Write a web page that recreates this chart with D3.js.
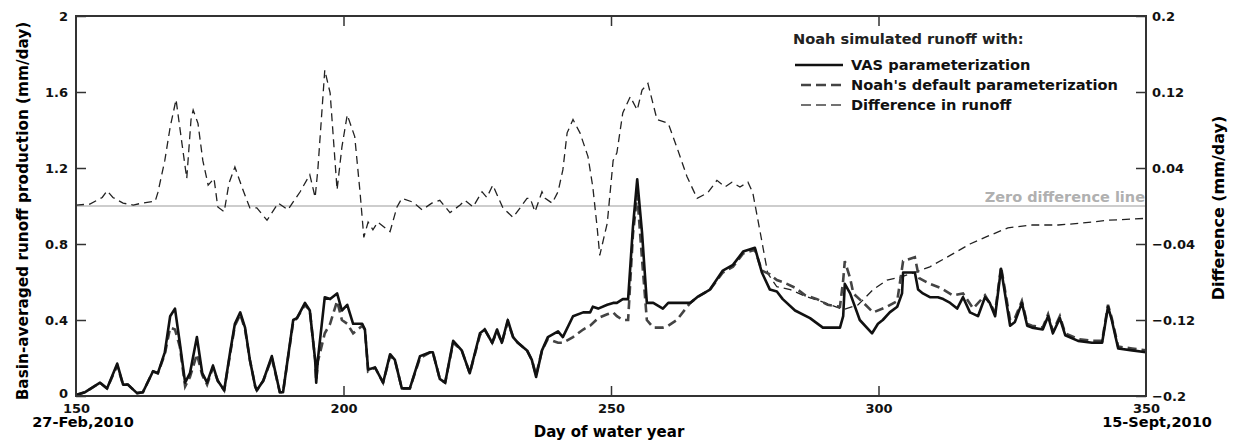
<!DOCTYPE html>
<html>
<head>
<meta charset="utf-8">
<script src="https://cdn.jsdelivr.net/npm/d3@7"></script>
<style>
  body { margin: 0; background: #fff; }
  svg text { font-family: "DejaVu Sans", Verdana, sans-serif; }
</style>
</head>
<body>
<div class="drawingArea"></div>
<script>
// Day of water year / runoff (mm/day), VAS parameterization
var vasDays = [150, 151.7, 154.5, 155.8, 157.7, 158.8, 159.7, 161.4, 162.5, 164.4, 165.3, 166.6, 167.6, 168.5, 169.4, 170.4, 171.3, 172.6, 173.6, 174.5, 175.6, 176.5, 177.7, 178.8, 179.7, 180.7, 181.6, 182.5, 183.5, 183.8, 185, 186.6, 188.1, 188.7, 190.6, 191.3, 192.8, 193.7, 194.7, 194.9, 195.2, 196.5, 197.5, 198.8, 199.7, 200.7, 201.8, 203.5, 204, 204.6, 205.9, 207.4, 208.7, 209.6, 210.9, 212.4, 214.3, 216.2, 216.7, 218, 219, 220.5, 222.1, 223.6, 225.5, 226.4, 227.8, 228.7, 229.6, 230.7, 231.7, 232.6, 234.3, 235.2, 236, 237.1, 238.2, 240.1, 241, 242.9, 244.8, 246.1, 246.6, 247.6, 249.3, 250.4, 251.1, 252.2, 253.2, 254.1, 254.9, 255.8, 256.7, 257.9, 259.7, 260.7, 264.8, 266.1, 268.5, 270.9, 272.8, 274.7, 276.9, 278.2, 279.7, 281, 282.1, 284.4, 287.2, 289.6, 292.8, 293.4, 293.7, 294.7, 296.5, 298.8, 299.9, 300.8, 302.1, 303.5, 304.4, 304.6, 306.8, 307.4, 308.3, 309.6, 311.1, 312.1, 313.4, 314.7, 315.8, 317.1, 318.6, 319.9, 320.8, 321.8, 322.9, 324.6, 325.5, 326.8, 327.8, 328.7, 330.7, 331.7, 332.6, 333.9, 334.9, 337.3, 339.9, 341.8, 342.9, 343.6, 344.8, 347.4, 350];
var vasRunoff = [0.005, 0.02, 0.07, 0.04, 0.17, 0.06, 0.06, 0.015, 0.02, 0.13, 0.12, 0.23, 0.42, 0.46, 0.28, 0.07, 0.12, 0.31, 0.12, 0.07, 0.16, 0.08, 0.03, 0.23, 0.38, 0.44, 0.36, 0.19, 0.05, 0.03, 0.08, 0.21, 0.02, 0.02, 0.40, 0.41, 0.49, 0.45, 0.19, 0.07, 0.19, 0.52, 0.51, 0.54, 0.45, 0.48, 0.38, 0.38, 0.35, 0.14, 0.15, 0.07, 0.22, 0.19, 0.04, 0.04, 0.21, 0.23, 0.23, 0.09, 0.07, 0.29, 0.24, 0.12, 0.33, 0.35, 0.28, 0.35, 0.28, 0.40, 0.31, 0.28, 0.24, 0.19, 0.10, 0.24, 0.31, 0.34, 0.31, 0.42, 0.44, 0.44, 0.47, 0.46, 0.48, 0.49, 0.49, 0.51, 0.51, 0.89, 1.14, 0.86, 0.49, 0.49, 0.46, 0.49, 0.49, 0.52, 0.56, 0.66, 0.69, 0.76, 0.78, 0.65, 0.56, 0.55, 0.51, 0.45, 0.41, 0.36, 0.36, 0.42, 0.59, 0.54, 0.40, 0.33, 0.38, 0.40, 0.44, 0.47, 0.54, 0.65, 0.65, 0.56, 0.54, 0.52, 0.52, 0.51, 0.49, 0.46, 0.52, 0.44, 0.42, 0.52, 0.49, 0.42, 0.67, 0.37, 0.39, 0.49, 0.37, 0.36, 0.35, 0.42, 0.33, 0.41, 0.32, 0.29, 0.28, 0.28, 0.47, 0.40, 0.25, 0.24, 0.23];

// Noah's default parameterization
var noahDays = [150, 151.7, 154.5, 155.8, 157.7, 158.8, 159.7, 161.4, 162.5, 164.4, 165.3, 166.6, 167.6, 168.5, 169.4, 170.4, 171.3, 172.6, 173.6, 174.5, 175.6, 176.5, 177.7, 178.8, 179.7, 180.7, 181.6, 182.5, 183.5, 183.8, 185, 186.6, 188.1, 188.7, 190.6, 191.3, 192.8, 193.7, 194.7, 194.9, 195.2, 196.5, 197.5, 198.8, 199.7, 200.7, 201.8, 203.5, 204, 204.6, 205.9, 207.4, 208.7, 209.6, 210.9, 212.4, 214.3, 216.2, 216.7, 218, 219, 220.5, 222.1, 223.6, 225.5, 226.4, 227.8, 228.7, 229.6, 230.7, 231.7, 232.6, 234.3, 235.2, 236, 237.1, 238.2, 240.1, 241, 242.9, 244.8, 246.1, 247.6, 249.3, 250.4, 251.1, 252.2, 253.2, 254.1, 254.9, 255.8, 256.7, 257.9, 259.7, 260.7, 262.3, 264.8, 266.1, 268.5, 270.9, 272.8, 274.7, 276.9, 278.2, 279.7, 281, 282.1, 284.4, 286.3, 288.5, 290.5, 292.8, 293.4, 293.7, 294.7, 295.3, 297.2, 299, 301.6, 303.5, 304.6, 306.8, 307.6, 309.6, 311.5, 313.9, 315.8, 317.7, 319.9, 321.8, 322.9, 324.6, 325.5, 326.8, 327.8, 328.7, 330.7, 331.7, 332.6, 333.9, 334.9, 337.3, 339.9, 341.8, 342.9, 343.6, 344.8, 347.4, 350];
var noahRunoff = [0.005, 0.02, 0.07, 0.04, 0.16, 0.06, 0.06, 0.015, 0.02, 0.13, 0.12, 0.22, 0.36, 0.35, 0.26, 0.05, 0.10, 0.22, 0.11, 0.06, 0.15, 0.08, 0.03, 0.22, 0.37, 0.43, 0.35, 0.19, 0.05, 0.03, 0.08, 0.20, 0.02, 0.02, 0.39, 0.41, 0.48, 0.45, 0.19, 0.08, 0.18, 0.33, 0.38, 0.50, 0.40, 0.38, 0.33, 0.37, 0.35, 0.13, 0.15, 0.07, 0.21, 0.19, 0.04, 0.04, 0.20, 0.23, 0.23, 0.09, 0.07, 0.28, 0.24, 0.12, 0.32, 0.35, 0.28, 0.34, 0.28, 0.39, 0.31, 0.28, 0.24, 0.19, 0.11, 0.24, 0.30, 0.28, 0.28, 0.31, 0.35, 0.37, 0.41, 0.43, 0.44, 0.42, 0.40, 0.40, 0.85, 1.06, 0.72, 0.40, 0.36, 0.36, 0.37, 0.40, 0.49, 0.52, 0.56, 0.65, 0.68, 0.75, 0.77, 0.66, 0.64, 0.61, 0.60, 0.57, 0.53, 0.51, 0.48, 0.47, 0.61, 0.71, 0.62, 0.54, 0.49, 0.44, 0.47, 0.50, 0.71, 0.73, 0.62, 0.59, 0.57, 0.53, 0.54, 0.46, 0.53, 0.44, 0.68, 0.40, 0.41, 0.50, 0.38, 0.37, 0.36, 0.43, 0.34, 0.42, 0.33, 0.30, 0.29, 0.29, 0.48, 0.41, 0.26, 0.25, 0.24];

// Difference in runoff (right axis)
var diffDays = [150, 152.6, 154.9, 155.8, 156.9, 158.8, 160.7, 162.3, 164.8, 165.3, 166.6, 167.6, 168.7, 169.8, 170.7, 171.5, 171.9, 172.8, 173.7, 174.7, 175.8, 176.5, 177.7, 178.6, 179.7, 181.2, 182.5, 183.8, 185.7, 187.8, 189.6, 191.9, 193.7, 194.7, 195.2, 196.5, 197.5, 198.8, 199.7, 200.7, 202.1, 203.1, 203.8, 204.6, 205.5, 206.4, 208.7, 210, 210.9, 213, 214.7, 216.5, 218, 219.9, 221.8, 222.7, 224.2, 225.9, 226.8, 227.9, 229.8, 231.7, 234.3, 234.9, 235.8, 237.1, 237.7, 239, 240.1, 241, 241.8, 242.9, 244.2, 245.7, 246.6, 247.4, 247.9, 249.3, 250.4, 251.1, 252.2, 253.6, 254.9, 255.8, 256.9, 258.6, 260.7, 262.3, 264.2, 266.1, 268.1, 269.8, 271.3, 272.6, 274.1, 275.6, 276.5, 277.9, 279.3, 281, 283.5, 286.3, 289.1, 293.4, 296.2, 299, 301.6, 304, 307.2, 309.6, 313.4, 317.1, 319.9, 324.2, 328.7, 333.6, 338, 342.9, 350];
var diffRunoff = [0.001, 0.002, 0.009, 0.016, 0.009, 0.003, 0.001, 0.003, 0.005, 0.014, 0.048, 0.083, 0.112, 0.066, 0.029, 0.091, 0.101, 0.087, 0.048, 0.022, 0.029, -0.001, -0.006, 0.024, 0.041, 0.017, -0.002, -0.002, -0.015, 0.003, -0.004, 0.015, 0.033, 0.009, 0.038, 0.143, 0.119, 0.017, 0.062, 0.096, 0.073, 0.014, -0.033, -0.017, -0.025, -0.017, -0.027, -0.001, 0.008, 0.004, -0.004, 0.003, 0.006, -0.007, 0.001, 0.006, -0.001, 0.015, 0.009, 0.022, -0.002, -0.012, 0.008, 0.008, -0.006, 0.015, 0.008, 0.003, 0.015, 0.038, 0.077, 0.091, 0.077, 0.052, 0.020, -0.022, -0.052, -0.018, 0.048, 0.056, 0.098, 0.115, 0.101, 0.122, 0.129, 0.091, 0.087, 0.062, 0.031, 0.008, 0.014, 0.027, 0.020, 0.025, 0.020, 0.025, 0.014, -0.028, -0.071, -0.085, -0.088, -0.095, -0.100, -0.109, -0.104, -0.088, -0.078, -0.075, -0.069, -0.064, -0.052, -0.040, -0.033, -0.023, -0.020, -0.020, -0.018, -0.015, -0.013];

var xTicks = [150, 200, 250, 300, 350];
var leftTicks = [0, 0.4, 0.8, 1.2, 1.6, 2];
var rightTicks = [-0.2, -0.12, -0.04, 0.04, 0.12, 0.2];
var legendLabels = ["VAS parameterization", "Noah's default parameterization", "Difference in runoff"];

var width = 1233, height = 441;
var plotLeft = 76, plotRight = 1146, plotTop = 16, plotBottom = 396;

var svg = d3.select(".drawingArea").append("svg")
    .attr("width", width).attr("height", height);

var x = d3.scaleLinear().domain([150, 350]).range([plotLeft, plotRight]);
var yL = d3.scaleLinear().domain([0, 2]).range([plotBottom, plotTop]);
var yR = d3.scaleLinear().domain([-0.2, 0.2]).range([plotBottom, plotTop]);

// zero difference line
svg.append("line")
    .attr("x1", plotLeft).attr("x2", plotRight)
    .attr("y1", yR(0)).attr("y2", yR(0))
    .attr("stroke", "#bdbdbd").attr("stroke-width", 1.5);
svg.append("text")
    .attr("x", plotRight - 1).attr("y", yR(0) - 4)
    .attr("text-anchor", "end")
    .attr("font-size", 14.5).attr("font-weight", "bold")
    .attr("fill", "#b0b0b0")
    .text("Zero difference line");

function makeLine(yScale) {
    return d3.line()
        .x(function (d) { return x(d[0]); })
        .y(function (d) { return yScale(d[1]); });
}

var plot = svg.append("g");

// Difference
plot.append("path")
    .datum(d3.zip(diffDays, diffRunoff))
    .attr("d", makeLine(yR))
    .attr("fill", "none").attr("stroke", "#222")
    .attr("stroke-width", 1.3).attr("stroke-dasharray", "8,5");

// Noah's default
plot.append("path")
    .datum(d3.zip(noahDays, noahRunoff))
    .attr("d", makeLine(yL))
    .attr("fill", "none").attr("stroke", "#444")
    .attr("stroke-width", 2.6).attr("stroke-dasharray", "9,5");

// VAS
plot.append("path")
    .datum(d3.zip(vasDays, vasRunoff))
    .attr("d", makeLine(yL))
    .attr("fill", "none").attr("stroke", "#111")
    .attr("stroke-width", 2.6).attr("stroke-linejoin", "round");

// frame
svg.append("rect")
    .attr("x", plotLeft).attr("y", plotTop)
    .attr("width", plotRight - plotLeft).attr("height", plotBottom - plotTop)
    .attr("fill", "none").attr("stroke", "#333").attr("stroke-width", 2);

// axes with inward ticks
var tickFont = function (g) {
    g.selectAll("text").attr("font-size", 13).attr("font-weight", "bold")
        .attr("fill", "#111").attr("font-family", "DejaVu Sans, Verdana, sans-serif");
    g.selectAll("line").attr("stroke", "#333").attr("stroke-width", 1.5);
    g.select(".domain").remove();
};

svg.append("g")
    .attr("transform", "translate(0," + plotBottom + ")")
    .call(d3.axisBottom(x).tickValues(xTicks).tickSize(-10).tickPadding(8).tickFormat(d3.format("d")))
    .call(tickFont)
    .call(function (g) {
        g.selectAll(".tick line").filter(function (d) { return d === 150 || d === 350; }).remove();
    });

svg.append("g")
    .attr("transform", "translate(0," + plotTop + ")")
    .call(d3.axisTop(x).tickValues([200, 250, 300]).tickSize(-10).tickFormat(""))
    .call(tickFont);

svg.append("g")
    .attr("transform", "translate(" + plotLeft + ",0)")
    .call(d3.axisLeft(yL).tickValues(leftTicks).tickSize(-10).tickPadding(8)
        .tickFormat(function (d) { return d === 0 || d === 2 ? d3.format("d")(d) : d3.format(".1f")(d); }))
    .call(tickFont)
    .call(function (g) {
        g.selectAll(".tick text").filter(function (d) { return d === 0; }).attr("dy", "0.1em");
    });

svg.append("g")
    .attr("transform", "translate(" + plotRight + ",0)")
    .call(d3.axisRight(yR).tickValues(rightTicks).tickSize(-10).tickPadding(6)
        .tickFormat(function (d) { return d3.format("")(+d.toFixed(2)); }))
    .call(tickFont);

// date labels under ends
svg.append("text").attr("x", 83).attr("y", 427)
    .attr("text-anchor", "middle").attr("font-size", 14.5).attr("font-weight", "bold")
    .text("27-Feb,2010");
svg.append("text").attr("x", 1157).attr("y", 427)
    .attr("text-anchor", "middle").attr("font-size", 14.5).attr("font-weight", "bold")
    .text("15-Sept,2010");

// axis titles
svg.append("text").attr("x", 609).attr("y", 437)
    .attr("text-anchor", "middle").attr("font-size", 15).attr("font-weight", "bold")
    .text("Day of water year");
svg.append("text")
    .attr("transform", "translate(28,211) rotate(-90)")
    .attr("text-anchor", "middle").attr("font-size", 15.3).attr("font-weight", "bold")
    .text("Basin-averaged runoff production (mm/day)");
svg.append("text")
    .attr("transform", "translate(1224,208) rotate(-90)")
    .attr("text-anchor", "middle").attr("font-size", 16).attr("font-weight", "bold")
    .text("Difference (mm/day)");

// legend
var legend = svg.append("g");
legend.append("text").attr("x", 793).attr("y", 44)
    .attr("font-size", 14.6).attr("font-weight", "bold").attr("fill", "#222")
    .text("Noah simulated runoff with:");
var legendStyles = [
    { x1: 795, w: 2.6, dash: null, color: "#111" },
    { x1: 801, w: 2.6, dash: "10,5", color: "#444" },
    { x1: 801, w: 1.6, dash: "10,5", color: "#444" }
];
legend.selectAll(".item")
    .data(legendLabels)
    .enter().append("g")
    .attr("class", "item")
    .attr("transform", function (d, i) { return "translate(0," + (65 + i * 20) + ")"; })
    .each(function (d, i) {
        var g = d3.select(this), s = legendStyles[i];
        g.append("line").attr("x1", s.x1).attr("x2", 843).attr("y1", 0).attr("y2", 0)
            .attr("stroke", s.color).attr("stroke-width", s.w)
            .attr("stroke-dasharray", s.dash);
        g.append("text").attr("x", 851).attr("y", 5)
            .attr("font-size", 14.6).attr("font-weight", "bold").attr("fill", "#111")
            .text(d);
    });
</script>
</body>
</html>
